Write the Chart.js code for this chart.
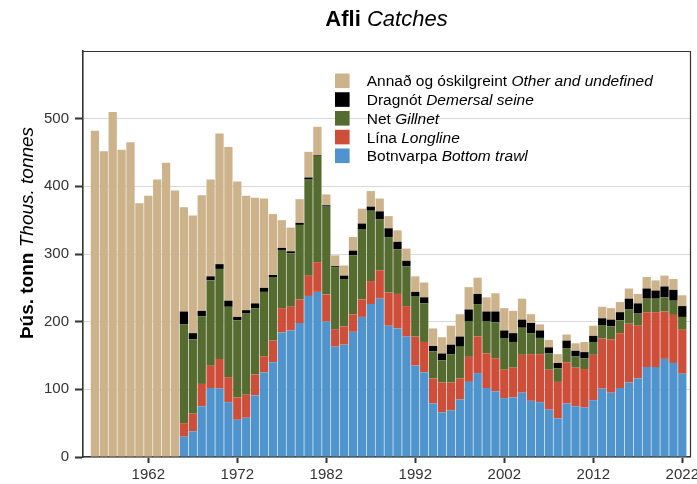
<!DOCTYPE html>
<html><head><meta charset="utf-8">
<script src="https://cdn.jsdelivr.net/npm/chart.js@4.4.1/dist/chart.umd.min.js"></script>
<style>html,body{margin:0;padding:0;background:#fff}#wrap{width:697px;height:484px;position:relative}</style>
</head><body><div id="wrap"><canvas id="c" width="697" height="484"></canvas></div>
<script>
// ---- data ----
const years = [1956,1957,1958,1959,1960,1961,1962,1963,1964,1965,
  1966,1967,1968,1969,1970,1971,1972,1973,1974,1975,
  1976,1977,1978,1979,1980,1981,1982,1983,1984,1985,
  1986,1987,1988,1989,1990,1991,1992,1993,1994,1995,
  1996,1997,1998,1999,2000,2001,2002,2003,2004,2005,
  2006,2007,2008,2009,2010,2011,2012,2013,2014,2015,
  2016,2017,2018,2019,2020,2021,2022];
const botnvarpa = [null,null,null,null,null,null,null,null,null,null,
  30,38,75,102,101,81,55,58,91,125,
  140,184,187,198,238,244,200,163,166,185,
  207,226,234,194,190,178,135,125,79,66,
  69,85,111,124,102,97,87,88,95,83,
  81,70,57,79,75,73,84,101,95,102,
  110,116,133,133,145,139,123];
const lina = [null,null,null,null,null,null,null,null,null,null,
  20,26,33,33,44,37,33,34,31,24,
  32,36,35,35,30,44,40,26,27,26,
  26,34,42,49,51,45,43,45,37,44,
  41,31,37,54,51,49,42,44,56,69,
  71,59,54,61,57,57,67,74,79,81,
  87,78,81,81,70,71,65];
const net = [null,null,null,null,null,null,null,null,null,null,
  146,110,100,126,133,104,114,120,98,95,
  94,86,79,110,142,157,130,91,70,87,
  103,104,75,82,66,59,59,57,40,33,
  42,47,53,48,48,53,46,38,40,31,
  24,24,20,21,17,16,19,20,19,19,
  21,18,20,20,21,21,19];
const dragnot = [null,null,null,null,null,null,null,null,null,null,
  19,9,8,6,7,9,5,5,7,6,
  3,3,3,3,3,1,2,2,5,7,
  9,6,12,13,11,8,7,9,8,10,
  14,15,17,15,14,16,12,13,12,15,
  11,9,8,11,8,9,9,10,10,12,
  16,15,15,12,16,16,16];
const annad = [482,452,510,454,465,375,386,410,435,394,
  154,174,171,143,193,227,200,169,156,132,
  90,41,35,35,38,42,16,16,15,20,
  22,23,19,18,17,18,23,22,26,24,
  28,33,33,24,21,27,33,33,31,13,
  9,11,13,9,11,15,15,17,17,15,
  15,14,17,15,16,16,16];
const xTickLabels = [1962,1972,1982,1992,2002,2012,2022];
const yTickLabels = [0,100,200,300,400,500];
const namesIs = ['Botnvarpa','Lína','Net','Dragnót','Annað og óskilgreint'];
const namesEn = ['Bottom trawl','Longline','Gillnet','Demersal seine','Other and undefined'];
const titleIs = 'Afli', titleEn = 'Catches';
const yTitleIs = 'Þús. tonn', yTitleEn = 'Thous. tonnes';

// ---- style ----
const colors = ['#4F94CD','#CD4F39','#556B2F','#000000','#CDB38B'];
const FONT = '"Liberation Sans", Arial, Helvetica, sans-serif';
const seriesValues = [botnvarpa, lina, net, dragnot, annad];

const datasets = seriesValues.map((vals,i)=>({
  label: namesIs[i] + ' ' + namesEn[i],
  data: years.map((y,j)=>({x:y, y:vals[j]})),
  backgroundColor: colors[i],
  borderWidth: 0,
  categoryPercentage: 1.0,
  barPercentage: 0.93
}));

function drawMixed(ctx, parts, x, y, align){
  const w = parts.map(p=>{ctx.font=p.font; return ctx.measureText(p.text).width;});
  const total = w.reduce((a,b)=>a+b,0);
  let sx = align==='center' ? x-total/2 : x;
  parts.forEach((p,i)=>{ctx.font=p.font; ctx.fillText(p.text, sx, y); sx += w[i];});
}

const decor = {
  id:'decor',
  afterDraw(chart){
    const ctx = chart.ctx, a = chart.chartArea;
    ctx.save();
    // frame top/right
    ctx.strokeStyle = '#333'; ctx.lineWidth = 1.2;
    ctx.beginPath();
    ctx.moveTo(a.left, a.top+0.5); ctx.lineTo(a.right+0.5, a.top+0.5); ctx.lineTo(a.right+0.5, a.bottom);
    ctx.stroke();
    // title
    ctx.fillStyle = '#000'; ctx.textBaseline = 'alphabetic'; ctx.textAlign='left';
    drawMixed(ctx, [{text:titleIs+' ', font:'bold 22px '+FONT},{text:titleEn, font:'italic 22px '+FONT}], (a.left+a.right)/2, 26, 'center');
    // y title
    ctx.save();
    ctx.translate(33, 233); ctx.rotate(-Math.PI/2);
    drawMixed(ctx, [{text:yTitleIs+' ', font:'bold 19px '+FONT},{text:yTitleEn, font:'italic 19px '+FONT}], 0, 0, 'center');
    ctx.restore();
    // legend
    const order = [4,3,2,1,0];
    order.forEach((k,r)=>{
      const cy = 80.8 + r*18.75;
      ctx.fillStyle = colors[k];
      ctx.fillRect(335, cy-7.3, 14.6, 14.6);
      ctx.fillStyle = '#000';
      drawMixed(ctx, [{text:namesIs[k]+' ', font:'15.5px '+FONT},{text:namesEn[k], font:'italic 15.5px '+FONT}], 366.7, cy+5.5, 'left');
    });
    ctx.restore();
  }
};

new Chart(document.getElementById('c'), {
  type:'bar',
  data:{datasets},
  options:{
    responsive:false,
    animation:false,
    devicePixelRatio:1,
    layout:{padding:{top:51, right:7, left:0, bottom:0}},
    plugins:{legend:{display:false}, title:{display:false}, tooltip:{enabled:false}},
    scales:{
      x:{
        type:'linear', stacked:true, offset:false,
        min:1954.663, max:2022.865,
        afterBuildTicks(s){ s.ticks = xTickLabels.map(v=>({value:v})); },
        afterFit(s){ s.height = 27; s.paddingLeft = 0; s.paddingRight = 0; },
        grid:{offset:false, drawOnChartArea:false, drawTicks:true, tickLength:6, tickColor:'#333', tickWidth:2},
        border:{display:true, color:'#333', width:1.6},
        ticks:{color:'#333', font:{family:FONT, size:15}, padding:3, maxRotation:0, autoSkip:false,
          callback:(v)=>String(v)}
      },
      y:{
        type:'linear', stacked:true, min:0, max:600,
        afterBuildTicks(s){ s.ticks = yTickLabels.map(v=>({value:v})); },
        afterFit(s){ s.width = 83; s.paddingTop = 0; s.paddingBottom = 0; },
        grid:{color:'#D9D9D9', lineWidth:1, drawTicks:true, tickLength:8, tickColor:'#333', tickWidth:2},
        border:{display:true, color:'#333', width:1.6},
        ticks:{color:'#333', font:{family:FONT, size:15}, padding:6, callback:(v)=>String(v)}
      }
    }
  },
  plugins:[decor]
});
</script>
</body></html>
